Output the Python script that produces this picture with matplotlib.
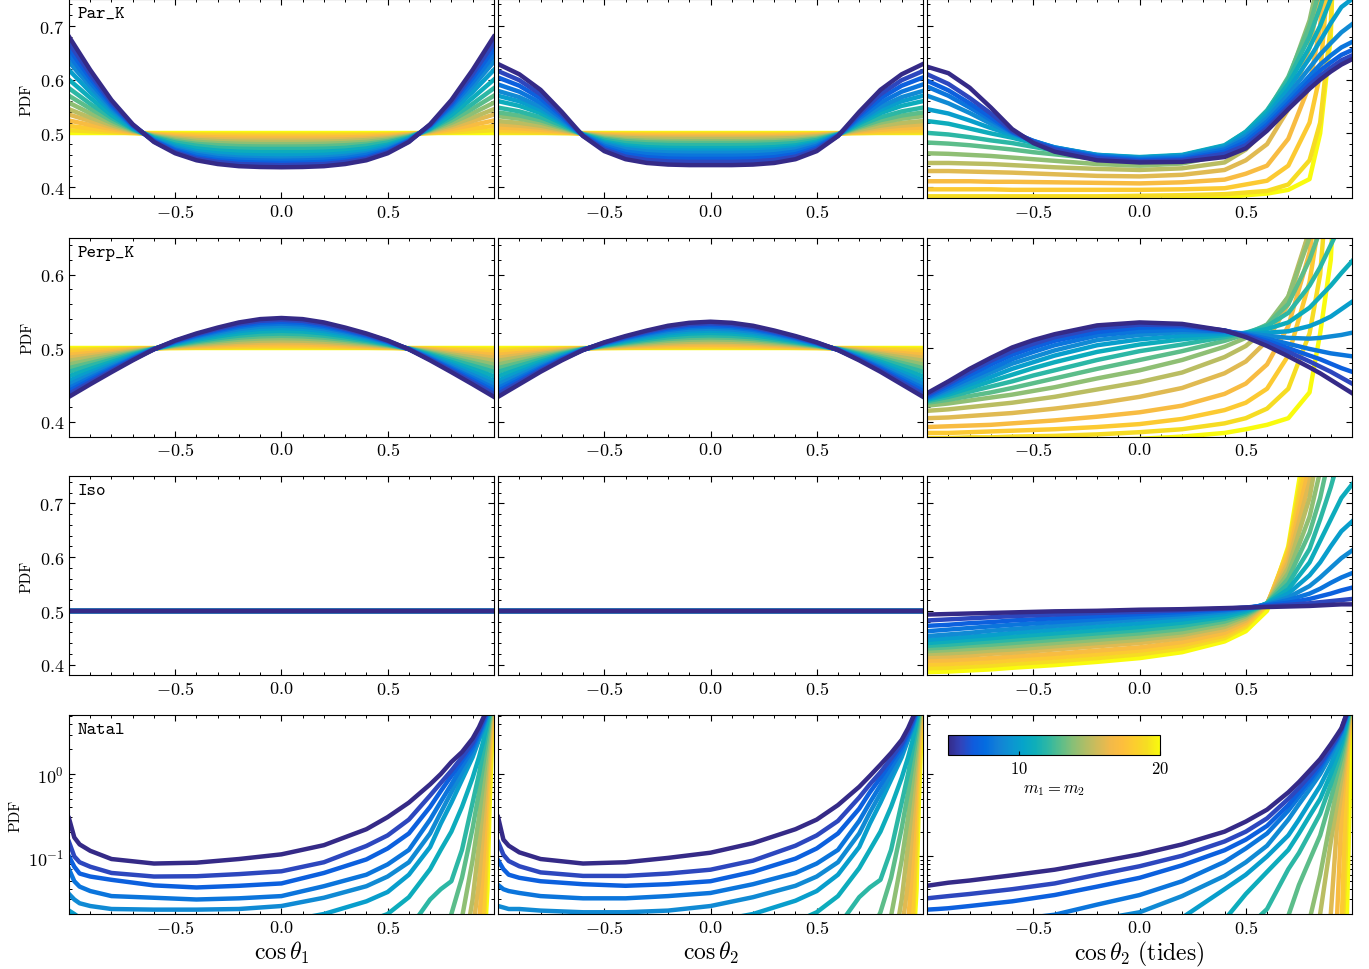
import numpy as np
import matplotlib
matplotlib.use('Agg')
import matplotlib.pyplot as plt
from matplotlib.colors import LinearSegmentedColormap, Normalize
from matplotlib.ticker import MultipleLocator
from matplotlib.cm import ScalarMappable

plt.rcParams.update({
    'font.family': 'serif',
    'font.serif': ['cmr10'],
    'mathtext.fontset': 'cm',
    'axes.formatter.use_mathtext': True,
    'axes.unicode_minus': True,
})

# m1 = m2 of each curve
masses = [5, 6, 7, 8, 9, 10, 11, 12, 13, 14, 15, 16, 17, 18, 19, 20]

# parula-like colour anchors
parula_pts = [
    (0.208, 0.166, 0.529), (0.196, 0.264, 0.728), (0.059, 0.360, 0.868),
    (0.017, 0.427, 0.879), (0.078, 0.504, 0.838), (0.049, 0.577, 0.823),
    (0.023, 0.642, 0.791), (0.059, 0.684, 0.725), (0.180, 0.718, 0.642),
    (0.348, 0.742, 0.547), (0.530, 0.749, 0.466), (0.683, 0.743, 0.404),
    (0.819, 0.733, 0.350), (0.945, 0.726, 0.289), (0.994, 0.745, 0.240),
    (0.988, 0.807, 0.179), (0.963, 0.871, 0.131), (0.976, 0.983, 0.054),
]

LO = 0.005  # below the plotted range (natal, log axis)

# ---- symmetric panels, values for cos >= 0 (mirrored) ----
x_half = [0.0, 0.1, 0.2, 0.3, 0.4, 0.5, 0.6, 0.7, 0.8, 0.9, 1.0]

par_t1 = [
    [.437, .4375, .439, .443, .450, .463, .484, .517, .562, .618, .680],
    [.441, .442, .443, .447, .453, .465, .485, .516, .558, .610, .668],
    [.445, .4455, .447, .450, .456, .468, .486, .515, .554, .603, .657],
    [.449, .4497, .451, .454, .460, .470, .487, .514, .550, .595, .645],
    [.453, .4538, .455, .458, .463, .473, .488, .5125, .546, .587, .633],
    [.459, .459, .460, .4626, .467, .476, .4895, .511, .541, .577, .618],
    [.465, .465, .466, .468, .472, .479, .491, .509, .534, .566, .600],
    [.471, .471, .4715, .473, .477, .483, .4925, .508, .529, .555, .584],
    [.4755, .4757, .4763, .478, .4805, .4856, .4938, .5066, .524, .546, .570],
    [.480, .480, .4807, .482, .4842, .4883, .4949, .5054, .5196, .5374, .557],
    [.4843, .4844, .4847, .4857, .4875, .4907, .496, .5042, .5155, .5295, .545],
    [.4878, .4879, .4881, .4889, .4903, .4928, .4969, .5033, .512, .523, .535],
    [.4916, .4917, .4919, .4924, .4933, .4951, .4979, .5023, .5083, .5157, .524],
    [.4951, .4951, .4953, .4956, .4961, .4971, .4988, .5013, .5048, .5092, .514],
    [.4979, .4979, .498, .4981, .4983, .4988, .4995, .5006, .5021, .5039, .506],
    [.500, .500, .500, .500, .500, .500, .500, .500, .500, .500, .500],
]

par_t2 = [
    [.441, .441, .442, .445, .452, .467, .495, .540, .581, .610, .629],
    [.447, .447, .448, .4506, .4568, .4703, .4955, .536, .5728, .599, .616],
    [.4525, .4525, .4532, .4557, .4613, .4734, .4959, .5322, .5653, .5887, .604],
    [.4584, .4584, .459, .4612, .4661, .4767, .4965, .5282, .5571, .5776, .591],
    [.4639, .4639, .4645, .4663, .4706, .4798, .4969, .5245, .5496, .5674, .579],
    [.468, .468, .4685, .4702, .474, .4821, .4973, .5217, .544, .5597, .570],
    [.4726, .4726, .473, .4744, .4777, .4846, .4977, .5186, .5377, .5512, .560],
    [.4781, .4781, .4784, .4796, .4821, .4877, .4981, .5149, .5301, .5409, .548],
    [.4822, .4822, .4825, .4834, .4855, .490, .4985, .5121, .5245, .5333, .539],
    [.4854, .4854, .4856, .4864, .4881, .4918, .4988, .5099, .5201, .5273, .532],
    [.4895, .4895, .4897, .4902, .4914, .4941, .4991, .5071, .5144, .5196, .523],
    [.4922, .4922, .4924, .4928, .4937, .4956, .4993, .5053, .5107, .5145, .517],
    [.495, .495, .495, .4953, .4959, .4972, .4996, .5034, .5069, .5094, .511],
    [.4973, .4973, .4973, .4974, .4978, .4985, .4998, .5019, .5038, .5051, .506],
    [.4991, .4991, .4991, .4991, .4993, .4995, .4999, .5006, .5013, .5017, .502],
    [.500, .500, .500, .500, .500, .500, .500, .500, .500, .500, .500],
]

perp_t1 = [
    [.541, .5395, .535, .528, .520, .5105, .4985, .4835, .4675, .451, .434],
    [.5385, .5371, .5329, .5263, .5188, .5099, .4986, .4845, .4695, .454, .438],
    [.536, .5347, .5307, .5246, .5176, .5092, .4987, .4855, .4715, .457, .442],
    [.5335, .5323, .5286, .5229, .5164, .5086, .4988, .4865, .4734, .4599, .446],
    [.5304, .5293, .526, .5208, .5148, .5078, .4989, .4878, .4759, .4636, .451],
    [.5273, .5263, .5233, .5187, .5133, .507, .499, .489, .4784, .4674, .456],
    [.5236, .5227, .5201, .5161, .5115, .506, .4991, .4905, .4813, .4718, .462],
    [.5199, .5191, .517, .5136, .5097, .5051, .4993, .492, .4843, .4763, .468],
    [.5168, .5161, .5143, .5114, .5082, .5043, .4994, .4933, .4867, .480, .473],
    [.5137, .5132, .5117, .5093, .5067, .5035, .4995, .4945, .4892, .4837, .478],
    [.5106, .5102, .509, .5072, .5052, .5027, .4996, .4958, .4916, .4874, .483],
    [.5081, .5078, .5069, .5055, .5039, .5021, .4997, .4968, .4936, .4904, .487],
    [.5056, .5054, .5048, .5038, .5027, .5014, .4998, .4978, .4956, .4933, .491],
    [.5031, .503, .5027, .5021, .5015, .5008, .4999, .4988, .4975, .4963, .495],
    [.5012, .5012, .5011, .5008, .5006, .5003, .500, .4995, .499, .4985, .498],
    [.500, .500, .500, .500, .500, .500, .500, .500, .500, .500, .500],
]

perp_t2 = [
    [.536, .5345, .5305, .524, .5165, .508, .4975, .4835, .468, .451, .434],
    [.5338, .5324, .5286, .5226, .5155, .5075, .4976, .4845, .4699, .454, .438],
    [.5316, .5303, .5268, .5211, .5145, .507, .4978, .4855, .4719, .457, .442],
    [.5294, .5282, .5249, .5197, .5135, .5065, .4979, .4865, .4738, .4599, .446],
    [.5267, .5256, .5226, .5178, .5123, .5059, .4981, .4878, .4762, .4636, .451],
    [.524, .523, .5203, .516, .511, .5053, .4983, .489, .4787, .4674, .456],
    [.5207, .5199, .5176, .5138, .5095, .5046, .4986, .4905, .4816, .4718, .462],
    [.5174, .5167, .5148, .5116, .508, .5039, .4988, .492, .4845, .4763, .468],
    [.5147, .5141, .5125, .5098, .5068, .5033, .499, .4933, .4869, .480, .473],
    [.512, .5115, .5102, .508, .5055, .5027, .4992, .4945, .4893, .4837, .478],
    [.5093, .5089, .5079, .5062, .5043, .5021, .4994, .4958, .4918, .4874, .483],
    [.5071, .5068, .506, .5047, .5033, .5016, .4995, .4968, .4937, .4904, .487],
    [.5049, .5047, .5042, .5033, .5023, .5011, .4997, .4978, .4956, .4933, .491],
    [.5027, .5026, .5023, .5018, .5013, .5006, .4998, .4988, .4976, .4963, .495],
    [.5011, .501, .5009, .5007, .5005, .5002, .4999, .4995, .499, .4985, .498],
    [.500, .500, .500, .500, .500, .500, .500, .500, .500, .500, .500],
]

# ---- isotropic: flat ----
x_flat = [-1.0, 1.0]
iso_t1 = [[0.5, 0.5] for m in masses]
iso_t2 = [[0.5, 0.5] for m in masses]

# ---- tides column ----
x_tide = [-1.0, -0.9, -0.8, -0.7, -0.6, -0.5, -0.4, -0.2, 0.0, 0.2, 0.4,
          0.5, 0.6, 0.7, 0.8, 0.85, 0.9, 0.95, 1.0]

par_tide = [
    [.624, .612, .585, .548, .508, .482, .466, .450, .446, .447, .456, .472, .505, .545, .583, .600, .615, .628, .638],
    [.610, .592, .566, .537, .505, .484, .470, .454, .448, .450, .462, .478, .510, .550, .590, .607, .622, .636, .645],
    [.598, .580, .556, .530, .503, .485, .472, .456, .450, .452, .466, .484, .516, .556, .598, .617, .632, .646, .655],
    [.587, .570, .548, .525, .502, .486, .473, .458, .452, .455, .470, .490, .522, .563, .607, .628, .645, .660, .670],
    [.570, .556, .538, .518, .500, .486, .474, .459, .454, .457, .473, .495, .528, .572, .622, .647, .668, .688, .703],
    [.545, .537, .524, .510, .497, .485, .474, .460, .455, .459, .476, .500, .534, .582, .640, .672, .705, .735, .750],
    [.523, .518, .509, .500, .492, .482, .473, .460, .456, .460, .478, .503, .540, .592, .660, .700, .750, .820, .900],
    [.501, .498, .493, .487, .482, .475, .468, .458, .455, .459, .477, .503, .543, .600, .680, .735, .800, .950, 1.10],
    [.483, .481, .478, .474, .470, .465, .461, .453, .447, .452, .470, .497, .540, .605, .700, .770, .900, 1.10, 1.30],
    [.463, .462, .460, .458, .455, .452, .449, .443, .440, .444, .460, .487, .530, .600, .710, .800, 1.00, 1.30, 1.50],
    [.445, .445, .444, .443, .441, .439, .437, .434, .432, .435, .446, .470, .510, .580, .700, .800, 1.05, 1.40, 1.70],
    [.430, .430, .429, .428, .427, .4255, .424, .421, .420, .423, .432, .450, .480, .545, .660, .760, 1.00, 1.50, 1.90],
    [.411, .411, .411, .410, .410, .4095, .409, .408, .407, .409, .414, .425, .440, .490, .590, .700, .950, 1.50, 2.00],
    [.396, .396, .396, .396, .395, .395, .395, .395, .395, .396, .398, .405, .412, .440, .520, .610, .850, 1.50, 2.10],
    [.383, .383, .383, .383, .383, .383, .383, .383, .384, .385, .387, .390, .393, .405, .450, .520, .700, 1.40, 2.20],
    [.372, .372, .372, .373, .373, .3735, .374, .375, .376, .378, .381, .385, .388, .395, .415, .500, .680, 1.30, 2.30],
]

perp_tide = [
    [.439, .455, .472, .487, .501, .511, .519, .531, .535, .533, .524, .515, .503, .489, .474, .466, .457, .448, .439],
    [.437, .452, .468, .483, .496, .506, .515, .527, .532, .531, .524, .517, .507, .495, .482, .475, .468, .460, .452],
    [.435, .449, .464, .478, .491, .501, .510, .522, .528, .529, .524, .518, .510, .500, .490, .485, .479, .473, .468],
    [.433, .446, .459, .472, .485, .495, .504, .517, .523, .525, .523, .519, .513, .506, .499, .496, .493, .491, .489],
    [.432, .443, .455, .467, .479, .488, .497, .511, .518, .522, .522, .520, .517, .514, .513, .514, .516, .518, .521],
    [.431, .440, .451, .461, .472, .481, .490, .504, .512, .517, .520, .520, .521, .523, .530, .536, .543, .553, .563],
    [.430, .437, .446, .455, .464, .473, .481, .495, .505, .512, .518, .521, .526, .535, .555, .570, .585, .602, .618],
    [.428, .434, .441, .448, .455, .463, .470, .484, .496, .505, .515, .521, .530, .548, .585, .610, .640, .670, .700],
    [.426, .430, .435, .440, .446, .4525, .459, .472, .484, .496, .510, .519, .532, .560, .620, .660, .720, .800, .900],
    [.422, .425, .429, .433, .437, .442, .447, .459, .470, .484, .502, .514, .532, .570, .650, .720, .820, 1.00, 1.20],
    [.415, .417, .420, .423, .426, .430, .434, .444, .454, .467, .488, .503, .527, .570, .660, .750, .900, 1.10, 1.30],
    [.405, .406, .408, .410, .412, .415, .418, .425, .434, .446, .466, .482, .510, .560, .660, .760, .950, 1.20, 1.50],
    [.393, .394, .395, .396, .398, .400, .402, .407, .413, .422, .438, .452, .478, .530, .630, .730, .950, 1.30, 1.70],
    [.385, .385, .386, .387, .388, .389, .390, .393, .397, .404, .416, .426, .445, .490, .590, .680, .900, 1.30, 1.80],
    [.378, .378, .379, .379, .380, .3805, .381, .383, .386, .390, .398, .405, .418, .445, .520, .600, .780, 1.20, 1.80],
    [.372, .372, .372, .373, .373, .3735, .374, .375, .377, .380, .385, .390, .396, .405, .440, .520, .620, .900, 1.80],
]

iso_tide = [
    [.493, .494, .495, .496, .497, .498, .499, .500, .502, .503, .505, .506, .507, .508, .509, .510, .511, .512, .512],
    [.482, .484, .486, .488, .490, .4915, .493, .496, .498, .501, .504, .506, .508, .511, .514, .516, .518, .520, .522],
    [.472, .474, .477, .479, .482, .484, .486, .490, .494, .498, .503, .506, .510, .515, .522, .527, .532, .538, .543],
    [.462, .465, .468, .471, .474, .4765, .479, .484, .489, .494, .501, .505, .511, .520, .532, .541, .552, .562, .570],
    [.453, .456, .459, .463, .466, .469, .472, .478, .484, .490, .498, .504, .512, .525, .546, .562, .580, .598, .612],
    [.446, .449, .452, .455, .459, .462, .465, .471, .477, .484, .494, .502, .513, .532, .566, .590, .620, .648, .666],
    [.440, .443, .446, .449, .452, .455, .458, .464, .470, .478, .489, .499, .514, .540, .590, .630, .670, .710, .735],
    [.435, .437, .440, .443, .446, .449, .452, .458, .464, .472, .485, .496, .514, .550, .615, .670, .730, .800, .860],
    [.430, .432, .435, .437, .440, .443, .446, .452, .458, .466, .480, .493, .514, .560, .645, .710, .800, .930, 1.00],
    [.425, .427, .429, .432, .434, .437, .440, .446, .452, .460, .475, .490, .514, .570, .675, .760, .900, 1.10, 1.20],
    [.420, .421, .423, .426, .428, .431, .434, .440, .446, .455, .470, .486, .514, .580, .710, .820, 1.00, 1.20, 1.40],
    [.414, .415, .417, .420, .422, .425, .428, .434, .440, .449, .465, .482, .514, .590, .740, .870, 1.10, 1.30, 1.50],
    [.407, .408, .410, .412, .415, .4175, .420, .426, .432, .442, .459, .478, .513, .600, .770, .920, 1.20, 1.40, 1.60],
    [.400, .401, .403, .405, .408, .4105, .413, .419, .426, .436, .454, .474, .512, .610, .800, .970, 1.30, 1.50, 1.70],
    [.393, .394, .396, .398, .401, .4035, .406, .412, .419, .430, .449, .470, .510, .615, .830, 1.00, 1.30, 1.60, 1.80],
    [.386, .387, .389, .391, .394, .3965, .399, .405, .412, .423, .443, .462, .500, .620, .860, 1.05, 1.40, 1.70, 1.90],
]

# ---- natal kicks (log axis) ----
x_natal = [-1.0, -0.975, -0.95, -0.9, -0.8, -0.6, -0.4, -0.2, 0.0, 0.2, 0.4, 0.5,
           0.6, 0.7, 0.75, 0.8, 0.85, 0.9, 0.93, 0.95, 0.97, 0.98, 1.0]

natal_t1 = [
    [.29, .17, .14, .117, .093, .082, .084, .093, .106, .137, .214, .30, .45, .75, 1.0, 1.4, 1.85, 2.7, 3.7, 4.8, 6.2, 7, 9],
    [.15, .10, .085, .075, .063, .057, .0575, .061, .066, .085, .134, .18, .28, .55, .78, 1.1, 1.6, 2.4, 3.4, 4.5, 6.0, 7, 9],
    [.10, .075, .062, .057, .052, .0445, .042, .044, .047, .063, .092, .125, .19, .40, .62, .95, 1.45, 2.2, 3.2, 4.3, 5.8, 7, 9],
    [.07, .05, .043, .038, .033, .0315, .030, .031, .033, .0435, .06, .08, .12, .28, .46, .75, 1.25, 2.0, 3.0, 4.0, 5.6, 6.8, 9],
    [.035, .03, .027, .025, .023, .0226, .0226, .023, .025, .0315, .0435, .057, .085, .19, .34, .6, 1.05, 1.8, 2.8, 3.7, 5.4, 6.6, 9],
    [.022, .02, .018, .017, .016, .015, .015, .015, .016, .02, .0285, .037, .06, .13, .25, .45, .85, 1.6, 2.6, 3.5, 5.2, 6.4, 9],
    [.013, .012, .011, .01, .01, .009, .009, .009, .01, .012, .016, .02, .032, .07, .12, .2, .4, .9, 1.6, 2.5, 4.5, 6.0, 9],
    [.009, .009, .008, .008, .008, .007, .007, .007, .007, .008, .009, .011, .013, .03, .04, .05, .12, .45, 1.0, 1.9, 3.8, 5.5, 9],
    [LO] * 14 + [.01, .02, .055, .22, .6, 1.3, 3.0, 4.8, 9],
    [LO] * 16 + [.018, .09, .3, .8, 2.3, 4.2, 9],
    [LO] * 17 + [.03, .14, .45, 1.7, 3.5, 9],
    [LO] * 17 + [.012, .05, .22, 1.2, 2.8, 9],
    [LO] * 18 + [.015, .08, .75, 2.2, 9],
    [LO] * 19 + [.02, .4, 1.6, 9],
    [LO] * 19 + [.01, .15, .9, 9],
    [LO] * 20 + [.04, .4, 9],
]

natal_t2 = [
    [.30, .16, .135, .112, .093, .082, .085, .096, .111, .145, .214, .28, .42, .70, .95, 1.3, 1.8, 2.6, 3.6, 4.7, 6.2, 7, 9],
    [.15, .105, .088, .076, .064, .058, .058, .062, .069, .089, .135, .18, .27, .52, .75, 1.05, 1.55, 2.35, 3.3, 4.4, 6.0, 7, 9],
    [.09, .07, .06, .055, .05, .046, .044, .046, .050, .065, .094, .125, .19, .38, .6, .9, 1.4, 2.15, 3.1, 4.2, 5.8, 7, 9],
    [.045, .04, .038, .036, .033, .031, .031, .033, .036, .046, .063, .082, .12, .27, .45, .73, 1.2, 1.95, 2.9, 3.9, 5.6, 6.8, 9],
    [.025, .024, .023, .023, .022, .021, .021, .022, .025, .032, .044, .057, .085, .19, .34, .58, 1.0, 1.75, 2.7, 3.7, 5.4, 6.6, 9],
    [.016, .016, .015, .015, .014, .014, .014, .015, .016, .02, .029, .038, .06, .13, .25, .45, .85, 1.6, 2.6, 3.5, 5.2, 6.4, 9],
    [.012, .011, .011, .01, .01, .009, .009, .009, .01, .012, .016, .021, .033, .072, .12, .2, .4, .9, 1.6, 2.5, 4.5, 6.0, 9],
    [.009, .009, .008, .008, .008, .007, .007, .007, .007, .008, .009, .011, .014, .032, .042, .052, .12, .45, 1.0, 1.9, 3.8, 5.5, 9],
    [LO] * 14 + [.011, .021, .055, .22, .6, 1.3, 3.0, 4.8, 9],
    [LO] * 16 + [.019, .09, .3, .8, 2.3, 4.2, 9],
    [LO] * 17 + [.03, .14, .45, 1.7, 3.5, 9],
    [LO] * 17 + [.012, .05, .22, 1.2, 2.8, 9],
    [LO] * 18 + [.015, .08, .75, 2.2, 9],
    [LO] * 19 + [.02, .4, 1.6, 9],
    [LO] * 19 + [.01, .15, .9, 9],
    [LO] * 20 + [.04, .4, 9],
]

natal_tide = [
    [.044, .045, .046, .048, .051, .059, .069, .085, .106, .14, .20, .265, .37, .60, .80, 1.1, 1.52, 2.3, 3.0, 3.6, 5.0, 5.8, 8],
    [.031, .0315, .032, .033, .035, .040, .047, .060, .076, .102, .152, .20, .29, .50, .68, .95, 1.35, 2.1, 2.8, 3.5, 4.9, 5.8, 8],
    [.0226, .0228, .023, .0235, .025, .0285, .034, .043, .055, .078, .119, .16, .235, .42, .60, .85, 1.25, 2.0, 2.7, 3.4, 4.8, 5.7, 8],
    [.012, .012, .013, .014, .015, .017, .0196, .026, .034, .050, .086, .125, .19, .36, .53, .78, 1.15, 1.9, 2.6, 3.3, 4.7, 5.7, 8],
    [LO, LO, LO, LO, .008, .01, .013, .017, .021, .033, .058, .085, .135, .28, .43, .65, 1.0, 1.7, 2.4, 3.1, 4.5, 5.5, 8],
    [LO] * 8 + [.012, .018, .04, .06, .10, .18, .28, .45, .72, 1.3, 2.0, 2.7, 4.2, 5.3, 8],
    [LO] * 10 + [.017, .035, .065, .12, .19, .31, .50, 1.0, 1.6, 2.3, 3.8, 5.0, 8],
    [LO] * 11 + [.013, .023, .07, .11, .19, .33, .75, 1.3, 2.0, 3.4, 4.7, 8],
    [LO] * 12 + [.01, .019, .045, .09, .18, .50, 1.0, 1.6, 3.0, 4.4, 8],
    [LO] * 15 + [.017, .06, .28, .7, 1.2, 2.6, 4.0, 8],
    [LO] * 16 + [.02, .15, .45, .9, 2.2, 3.6, 8],
    [LO] * 17 + [.02, .25, .6, 1.8, 3.2, 8],
    [LO] * 18 + [.02, .3, 1.4, 2.8, 8],
    [LO] * 19 + [.012, .5, 2.3, 8],
    [LO] * 20 + [.1, 1.6, 8],
    [LO] * 21 + [.05, 8],
]

row_names = ['Par_K', 'Perp_K', 'Iso', 'Natal']
row_data = [
    [(x_half, par_t1, True), (x_half, par_t2, True), (x_tide, par_tide, False)],
    [(x_half, perp_t1, True), (x_half, perp_t2, True), (x_tide, perp_tide, False)],
    [(x_flat, iso_t1, False), (x_flat, iso_t2, False), (x_tide, iso_tide, False)],
    [(x_natal, natal_t1, False), (x_natal, natal_t2, False), (x_natal, natal_tide, False)],
]
row_ylim = [(0.38, 0.75), (0.38, 0.65), (0.38, 0.75), (0.02, 5.2)]
col_xlabels = [r'$\cos\theta_1$', r'$\cos\theta_2$', r'$\cos\theta_2$ (tides)']


def mirror(xh, yh):
    xh = np.asarray(xh)
    yh = np.asarray(yh)
    return np.concatenate([-xh[:0:-1], xh]), np.concatenate([yh[:0:-1], yh])


cmap = LinearSegmentedColormap.from_list('parula', parula_pts)
norm = Normalize(vmin=5, vmax=20)

fig, axes = plt.subplots(4, 3, figsize=(13.69, 9.70), dpi=100, sharex=True)
fig.subplots_adjust(left=0.0504, right=0.9876, top=1.0, bottom=0.0567,
                    wspace=0.01, hspace=0.2)

lw = 3.2

for r in range(4):
    for c in range(3):
        ax = axes[r, c]
        xs, table, sym = row_data[r][c]
        # heaviest first so the lightest masses sit on top
        for m, ys in reversed(list(zip(masses, table))):
            if sym:
                xx, yy = mirror(xs, ys)
            else:
                xx, yy = xs, ys
            ax.plot(xx, yy, color=cmap(norm(m)), lw=lw, solid_joinstyle='round')
        if r == 3:
            ax.set_yscale('log')
        ax.set_ylim(*row_ylim[r])
        ax.set_xlim(-1, 1)
        ax.set_xticks([-0.5, 0.0, 0.5])
        ax.xaxis.set_minor_locator(MultipleLocator(0.1))
        if r != 3:
            ax.yaxis.set_major_locator(MultipleLocator(0.1))
            ax.yaxis.set_minor_locator(MultipleLocator(0.02))
        ax.tick_params(which='both', direction='in', top=True, right=True,
                       labelsize=13, labelbottom=True)
        ax.tick_params(which='major', length=4.5, width=0.8)
        ax.tick_params(which='minor', length=2.2, width=0.7)
        if c == 0:
            ax.set_ylabel('PDF', fontsize=11)
            ax.text(0.021, 0.965, row_names[r], transform=ax.transAxes,
                    ha='left', va='top', fontsize=13, family='cmtt10')
        else:
            ax.tick_params(labelleft=False)
        if r == 3:
            ax.set_xlabel(col_xlabels[c], fontsize=17, labelpad=2)

# colour bar inside the natal/tides panel
cax = axes[3, 2].inset_axes([0.049, 0.799, 0.499, 0.1])
sm = ScalarMappable(norm=norm, cmap=cmap)
cb = fig.colorbar(sm, cax=cax, orientation='horizontal', ticks=[10, 20])
cb.ax.tick_params(direction='in', length=3, labelsize=12)
cb.set_label(r'$m_1 = m_2$', fontsize=12, labelpad=4)

fig.savefig('out.png', dpi=100)
